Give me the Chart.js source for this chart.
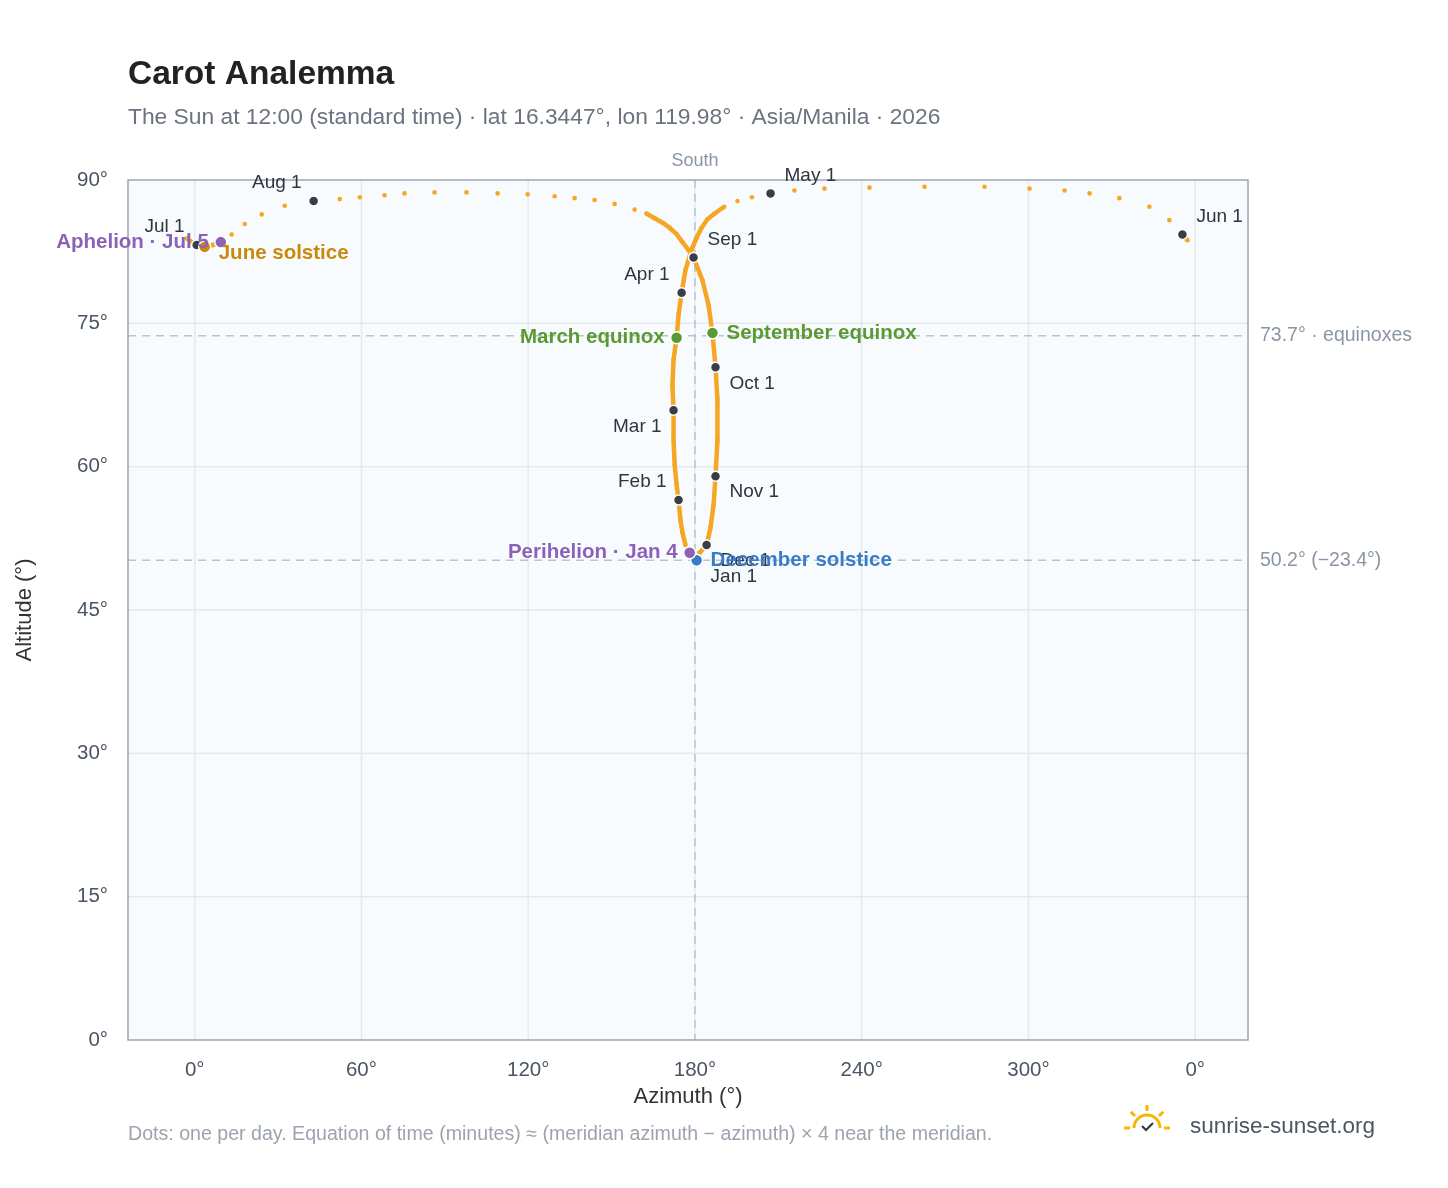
<!DOCTYPE html>
<html>
<head>
<meta charset="utf-8">
<script src="https://cdn.jsdelivr.net/npm/chart.js@4"></script>
<style>
  html, body { margin: 0; padding: 0; background: #fff; }
  #wrap { width: 1448px; height: 1188px; position: relative; }
</style>
</head>
<body>
<div id="wrap"><canvas id="analemma" width="1448" height="1188"></canvas></div>
<script>
// sun path at noon (azimuth °, altitude °), in date order
const pathAz = [180.6, 176.6, 175.5, 174.8, 174.1, 173.4, 172.7, 172.3, 172.3, 171.9, 172.3, 173.4, 174.1, 175.2, 176.6, 178.8, 180.5, 182.4, 184.5, 187.1, 190.5, 195.3, 200.5, 207.2, 215.8, 226.6, 242.8, 262.6, 284.2, 300.4, 313, 322, 332.7, 343.5, 350.7, 355.4, 357.2,
  -2.9, -1.1, 0.7, 3.6, 6.5, 9.4, 13.3, 18, 24.1, 32.4, 42.8, 52.2, 59.4, 68.3, 75.5, 86.3, 97.8, 109, 119.8, 129.5, 136.7, 143.9, 151.1, 158.3, 162.5, 165.5, 168.5, 170.9, 173.5, 175.5, 177.6, 179.5, 182.7, 184.9, 186.3, 187.4, 188.1, 188.1, 187.4, 186.7, 185.6, 184.2, 181.7, 180.8];
const pathAlt = [50.2, 51.8, 53.1, 54.4, 56.5, 58.1, 60.2, 62.8, 65.9, 68.5, 71.2, 73.5, 75.9, 78.2, 80.6, 82.7, 83.9, 85.0, 85.9, 86.5, 87.2, 87.8, 88.2, 88.6, 88.9, 89.1, 89.2, 89.3, 89.3, 89.1, 88.9, 88.6, 88.1, 87.2, 85.8, 84.3, 83.7,
  83.9, 83.5, 83.2, 83.0, 83.2, 83.5, 84.3, 85.4, 86.4, 87.3, 87.8, 88.0, 88.2, 88.4, 88.6, 88.7, 88.7, 88.6, 88.5, 88.3, 88.1, 87.9, 87.5, 86.9, 86.5, 86.0, 85.5, 85.0, 84.3, 83.5, 82.7, 81.9, 79.5, 76.9, 74.0, 70.4, 67.0, 62.8, 59.0, 56.0, 53.6, 51.8, 51.0, 50.3];

// first of each month
const monthNames = ["Jan 1", "Feb 1", "Mar 1", "Apr 1", "May 1", "Jun 1", "Jul 1", "Aug 1", "Sep 1", "Oct 1", "Nov 1", "Dec 1"];
const monthAz = [180.6, 174.1, 172.3, 175.2, 207.2, 355.4, 0.7, 42.8, 179.5, 187.4, 187.4, 184.2];
const monthAlt = [50.2, 56.5, 65.9, 78.2, 88.6, 84.3, 83.2, 87.8, 81.9, 70.4, 59.0, 51.8];
const monthSide = ["rd", "lu", "ld", "lu", "ru", "ru", "lu", "lu", "ru", "rd", "rd", "rd"];

// solstices, equinoxes, apsides
const eventNames = ["March equinox", "September equinox", "June solstice", "December solstice", "Perihelion · Jan 4", "Aphelion · Jul 5"];
const eventAz = [173.4, 186.3, 3.6, 180.6, 178.1, 9.4];
const eventAlt = [73.5, 74.0, 83.0, 50.2, 51.0, 83.5];
const eventColors = ["#5b9a32", "#5b9a32", "#c98a0a", "#3a7bc8", "#8c62b8", "#8c62b8"];
const eventSide = ["l", "r", "r", "r", "l", "l"];

const refLines = [73.7, 50.2];
const refLabels = ["73.7° · equinoxes", "50.2° (−23.4°)"];
const xTicks = [0, 60, 120, 180, 240, 300, 360];

const FONT = "'Liberation Sans', Arial, sans-serif";

const annotations = {
  id: 'annotations',
  beforeDatasetsDraw(chart) {
    const c = chart.ctx, a = chart.chartArea;
    const x = chart.scales.x, y = chart.scales.y;
    c.save();
    c.fillStyle = '#f8fbfe';
    c.fillRect(a.left, a.top, a.right - a.left, a.bottom - a.top);
    c.strokeStyle = '#e5e9ef'; c.lineWidth = 1.5;
    xTicks.forEach(t => { const px = x.getPixelForValue(t); c.beginPath(); c.moveTo(px, a.top); c.lineTo(px, a.bottom); c.stroke(); });
    for (let t = 15; t < 90; t += 15) { const py = y.getPixelForValue(t); c.beginPath(); c.moveTo(a.left, py); c.lineTo(a.right, py); c.stroke(); }
    c.setLineDash([8, 6]); c.strokeStyle = '#b7c4d2'; c.lineWidth = 1.5;
    const sx = x.getPixelForValue(180);
    c.beginPath(); c.moveTo(sx, a.top); c.lineTo(sx, a.bottom); c.stroke();
    refLines.forEach(v => {
      const py = y.getPixelForValue(v);
      c.beginPath(); c.moveTo(a.left, py); c.lineTo(a.right, py); c.stroke();
    });
    c.setLineDash([]);
    c.font = '19.5px ' + FONT; c.fillStyle = '#8a96a3'; c.textBaseline = 'middle'; c.textAlign = 'left';
    refLabels.forEach((t, i) => c.fillText(t, a.right + 12, y.getPixelForValue(refLines[i])));
    c.textAlign = 'center'; c.font = '18px ' + FONT;
    c.fillText('South', sx, a.top - 19);
    c.strokeStyle = '#9aa6b2'; c.lineWidth = 1.5;
    c.strokeRect(a.left, a.top, a.right - a.left, a.bottom - a.top);
    // axis titles
    c.fillStyle = '#333'; c.font = '22px ' + FONT;
    c.fillText('Azimuth (°)', (a.left + a.right) / 2, 1097);
    c.save(); c.translate(25, (a.top + a.bottom) / 2); c.rotate(-Math.PI / 2);
    c.fillText('Altitude (°)', 0, 0); c.restore();
    c.restore();
  },
  afterDatasetsDraw(chart) {
    const c = chart.ctx;
    const x = chart.scales.x, y = chart.scales.y;
    c.save();
    c.textBaseline = 'middle';
    const dot = (px, py, r, col) => {
      c.beginPath(); c.arc(px, py, r, 0, Math.PI * 2);
      c.fillStyle = col; c.fill();
      c.lineWidth = 1.5; c.strokeStyle = '#fff'; c.stroke();
    };
    const label = (txt, px, py, side) => {
      let dx = 0, dy = 0;
      if (side[0] === 'l') { c.textAlign = 'right'; dx = -12; } else { c.textAlign = 'left'; dx = 14; }
      if (side[1] === 'u') dy = -18;
      if (side[1] === 'd') dy = 16;
      c.fillText(txt, px + dx, py + dy);
    };
    monthNames.forEach((n, i) => {
      dot(x.getPixelForValue(monthAz[i]), y.getPixelForValue(monthAlt[i]), 5, '#373e4a');
    });
    eventNames.forEach((n, i) => {
      dot(x.getPixelForValue(eventAz[i]), y.getPixelForValue(eventAlt[i]), 6, eventColors[i]);
    });
    c.font = '19px ' + FONT; c.fillStyle = '#2f3640';
    monthNames.forEach((n, i) => {
      label(n, x.getPixelForValue(monthAz[i]), y.getPixelForValue(monthAlt[i]), monthSide[i]);
    });
    c.font = 'bold 20.5px ' + FONT;
    eventNames.forEach((n, i) => {
      c.fillStyle = eventColors[i];
      let py = y.getPixelForValue(eventAlt[i]);
      if (i === 2) py += 6;
      label(n, x.getPixelForValue(eventAz[i]), py, eventSide[i]);
    });
    c.restore();
  },
  afterDraw(chart) {
    const c = chart.ctx;
    c.save();
    c.textBaseline = 'alphabetic'; c.textAlign = 'left';
    c.fillStyle = '#222'; c.font = 'bold 33.5px ' + FONT;
    c.fillText('Carot Analemma', 128, 84);
    c.fillStyle = '#6b7280'; c.font = '22.8px ' + FONT;
    c.fillText('The Sun at 12:00 (standard time) · lat 16.3447°, lon 119.98° · Asia/Manila · 2026', 128, 124);
    c.fillStyle = '#9ca3af'; c.font = '19.6px ' + FONT;
    c.fillText('Dots: one per day. Equation of time (minutes) ≈ (meridian azimuth − azimuth) × 4 near the meridian.', 128, 1140);
    c.fillStyle = '#4b5563'; c.font = '22.5px ' + FONT;
    c.fillText('sunrise-sunset.org', 1190, 1133);
    const lx = 1147, ly = 1128;
    c.strokeStyle = '#f5b800'; c.lineWidth = 3;
    c.beginPath(); c.arc(lx, ly, 13, Math.PI, 2 * Math.PI); c.stroke();
    for (let k = 0; k < 5; k++) {
      const ang = Math.PI + k * Math.PI / 4;
      c.beginPath();
      c.moveTo(lx + Math.cos(ang) * 17, ly + Math.sin(ang) * 17);
      c.lineTo(lx + Math.cos(ang) * 23, ly + Math.sin(ang) * 23);
      c.stroke();
    }
    c.strokeStyle = '#333'; c.lineWidth = 2;
    c.beginPath(); c.moveTo(lx - 5, ly - 2); c.lineTo(lx - 1, ly + 2); c.lineTo(lx + 6, ly - 5); c.stroke();
    c.restore();
  }
};

const points = pathAz.map((v, i) => ({ x: v, y: pathAlt[i] }));

new Chart(document.getElementById('analemma'), {
  type: 'scatter',
  data: {
    datasets: [{
      data: points,
      showLine: true,
      borderColor: '#f5a623',
      borderWidth: 4.5,
      pointRadius: 2.3,
      pointBackgroundColor: '#f5a623',
      pointBorderWidth: 0,
      segment: {
        borderColor: ctx => Math.abs(ctx.p1.parsed.x - ctx.p0.parsed.x) > 3.5 ? 'rgba(0,0,0,0)' : '#f5a623'
      }
    }]
  },
  options: {
    responsive: false,
    animation: false,
    devicePixelRatio: 1,
    layout: { padding: { left: 0, right: 200, top: 180, bottom: 0 } },
    plugins: { legend: { display: false }, tooltip: { enabled: false } },
    scales: {
      x: {
        type: 'linear', min: -24, max: 379,
        afterBuildTicks: s => { s.ticks = xTicks.map(v => ({ value: v })); },
        afterFit: s => { s.height = 148; },
        grid: { display: false },
        border: { display: false },
        ticks: { color: '#4b5563', font: { size: 20.5, family: FONT }, padding: 10, callback: v => (v % 360) + '°' }
      },
      y: {
        min: 0, max: 90,
        afterFit: s => { s.width = 128; },
        grid: { display: false },
        border: { display: false },
        ticks: { stepSize: 15, color: '#4b5563', font: { size: 20.5, family: FONT }, padding: 12, callback: v => v + '°' }
      }
    }
  },
  plugins: [annotations]
});
</script>
</body>
</html>
